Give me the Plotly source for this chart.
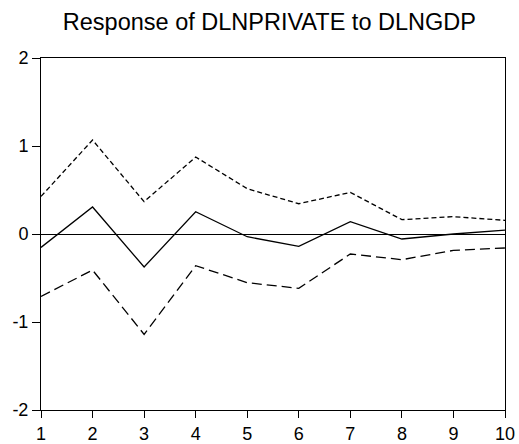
import plotly.graph_objects as go

periods = [1, 2, 3, 4, 5, 6, 7, 8, 9, 10]
response = [-0.152, 0.307, -0.375, 0.253, -0.031, -0.14, 0.14, -0.057, 0.0, 0.045]
upper = [0.427, 1.068, 0.367, 0.875, 0.515, 0.344, 0.473, 0.163, 0.197, 0.155]
lower = [-0.709, -0.41, -1.14, -0.36, -0.553, -0.618, -0.227, -0.292, -0.186, -0.159]
y_ticks = [-2, -1, 0, 1, 2]
y_labels = ["-2", "-1", "0", "1", "2"]

fig = go.Figure()
fig.add_trace(go.Scatter(x=periods, y=upper, mode="lines",
                         line=dict(color="black", width=1.3, dash="5px,3px")))
fig.add_trace(go.Scatter(x=periods, y=response, mode="lines",
                         line=dict(color="black", width=1.3)))
fig.add_trace(go.Scatter(x=periods, y=lower, mode="lines",
                         line=dict(color="black", width=1.3, dash="10px,5px")))

fig.update_layout(
    width=519, height=444,
    margin=dict(l=41, r=14, t=58, b=34),
    paper_bgcolor="white", plot_bgcolor="white",
    showlegend=False,
    font=dict(family="Liberation Sans, Arial, sans-serif", color="black", size=18),
    title=dict(text="Response of DLNPRIVATE to DLNGDP", x=0.519, xanchor="center",
               y=0.952, yanchor="middle", font=dict(size=23.5)),
)
fig.update_xaxes(range=[1, 10], tickvals=periods, showgrid=False, zeroline=False,
                 showline=True, linecolor="black", linewidth=1, mirror=True,
                 ticks="outside", ticklen=7, tickcolor="black", automargin=False)
fig.update_yaxes(range=[-2, 2], tickvals=y_ticks, ticktext=y_labels, showgrid=False,
                 zeroline=True, zerolinecolor="black", zerolinewidth=1,
                 showline=True, linecolor="black", linewidth=1, mirror=True,
                 ticks="outside", ticklen=8, tickcolor="black", automargin=False)

fig.write_html("out.html", config={"displayModeBar": False},
               post_script="document.body.style.margin='0px';")
